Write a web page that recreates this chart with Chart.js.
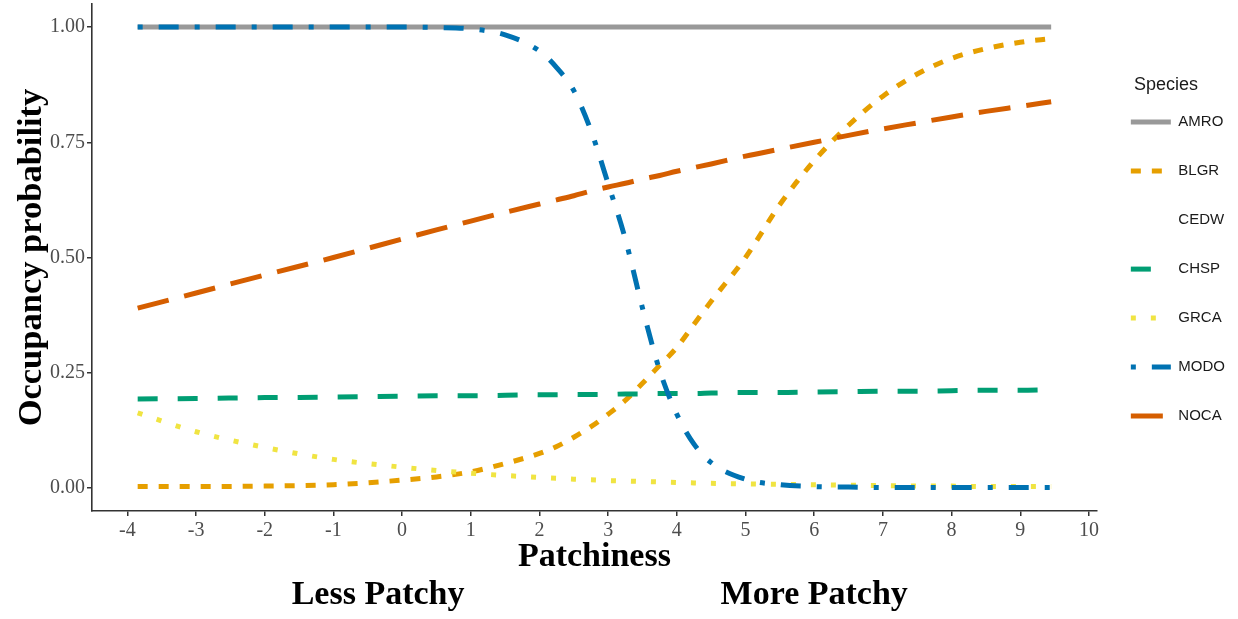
<!DOCTYPE html>
<html>
<head>
<meta charset="utf-8">
<title>Occupancy probability vs Patchiness</title>
<script src="https://cdn.jsdelivr.net/npm/chart.js@4.4.1/dist/chart.umd.min.js"></script>
<style>
  html, body { margin: 0; padding: 0; background: #fff; }
  #wrap { width: 1238px; height: 619px; }
</style>
</head>
<body>
<div id="wrap"><canvas id="chart" width="1238" height="619"></canvas></div>
<script>
/* ── Дані ── */
var patchiness = [-3.85, -3, -2, -1, 0, 0.5, 1, 1.5, 2, 2.25, 2.5, 2.75, 3, 3.25, 3.5, 3.75, 4, 4.25, 4.5, 5, 5.5, 6, 6.5, 7, 7.5, 8, 8.5, 9, 9.45];

var amro = [1, 1, 1, 1, 1, 1, 1, 1, 1, 1, 1, 1, 1, 1, 1, 1, 1, 1, 1, 1, 1, 1, 1, 1, 1, 1, 1, 1, 1];
var blgr = [0.003, 0.003, 0.004, 0.007, 0.017, 0.024, 0.035, 0.053, 0.075, 0.09, 0.11, 0.133, 0.16, 0.19, 0.227, 0.266, 0.305, 0.355, 0.405, 0.50, 0.615, 0.71, 0.787, 0.85, 0.898, 0.932, 0.953, 0.967, 0.975];
var cedw = [];
var chsp = [0.193, 0.194, 0.196, 0.197, 0.199, 0.2, 0.2, 0.201, 0.202, 0.202, 0.203, 0.203, 0.203, 0.204, 0.204, 0.205, 0.205, 0.205, 0.206, 0.207, 0.207, 0.208, 0.209, 0.21, 0.21, 0.211, 0.212, 0.212, 0.213];
var grca = [0.163, 0.122, 0.088, 0.062, 0.045, 0.038, 0.032, 0.027, 0.023, 0.021, 0.019, 0.018, 0.016, 0.015, 0.014, 0.013, 0.012, 0.011, 0.01, 0.009, 0.008, 0.007, 0.006, 0.005, 0.004, 0.004, 0.003, 0.003, 0.003];
var modo = [1, 1, 1, 1, 1, 0.999, 0.996, 0.983, 0.948, 0.912, 0.862, 0.775, 0.66, 0.54, 0.39, 0.255, 0.16, 0.095, 0.055, 0.019, 0.007, 0.003, 0.002, 0.001, 0.001, 0.001, 0.001, 0.001, 0.001];
var noca = [0.39, 0.423, 0.462, 0.50, 0.54, 0.56, 0.579, 0.598, 0.616, 0.625, 0.634, 0.644, 0.653, 0.661, 0.67, 0.678, 0.687, 0.695, 0.703, 0.72, 0.735, 0.75, 0.765, 0.779, 0.792, 0.805, 0.817, 0.828, 0.838];

var species = ['AMRO', 'BLGR', 'CEDW', 'CHSP', 'GRCA', 'MODO', 'NOCA'];
var xTicks  = [-4, -3, -2, -1, 0, 1, 2, 3, 4, 5, 6, 7, 8, 9, 10];
var yTicks  = [0, 0.25, 0.5, 0.75, 1];
var noteLabels = ['Less Patchy', 'More Patchy'];
var noteAt     = [-0.35, 6.0];

( function () {
    'use strict';

    var SERIF = '"Liberation Serif", "Times New Roman", serif';
    var SANS  = '"Liberation Sans", Arial, sans-serif';

    function toPoints( ys ) {
        return ys.map( function ( y, i ) { return { x: patchiness[ i ], y: y }; } );
    }

    /* колір, штрих, зсув штриха, порядок малювання (більший order — нижче) */
    var styles = {
        AMRO: { data: amro, color: '#999999', dash: [],              off: 0,  order: 6 },
        BLGR: { data: blgr, color: '#E69F00', dash: [10, 11],        off: 0,  order: 5 },
        CEDW: { data: cedw, color: 'rgba(0,0,0,0)', dash: [],        off: 0,  order: 4 },
        CHSP: { data: chsp, color: '#009E73', dash: [20, 20],        off: 0,  order: 3 },
        GRCA: { data: grca, color: '#F0E442', dash: [5, 15],         off: 0,  order: 2 },
        MODO: { data: modo, color: '#0072B2', dash: [20, 16, 5, 16], off: 36, order: 1 },
        NOCA: { data: noca, color: '#D55E00', dash: [32, 16],        off: 0,  order: 0 },
    };

    var datasets = species.map( function ( name ) {
        var s = styles[ name ];
        return {
            label:            name,
            data:             toPoints( s.data ),
            borderColor:      s.color,
            backgroundColor:  s.color,
            borderWidth:      5,
            borderDash:       s.dash,
            borderDashOffset: s.off,
            borderCapStyle:   'butt',
            pointRadius:      0,
            pointHoverRadius: 0,
            fill:             false,
            cubicInterpolationMode: 'monotone',
            order:            s.order,
        };
    } );

    /* Підписи під віссю X */
    var patchyNotes = {
        id: 'patchyNotes',
        afterDraw: function ( chart ) {
            var ctx = chart.ctx;
            var xs  = chart.scales.x;
            ctx.save();
            ctx.font = 'bold 34px ' + SERIF;
            ctx.fillStyle = '#000';
            ctx.textAlign = 'center';
            ctx.textBaseline = 'middle';
            noteLabels.forEach( function ( t, i ) {
                ctx.fillText( t, xs.getPixelForValue( noteAt[ i ] ), xs.bottom - 24 );
            } );
            ctx.restore();
        },
    };

    new Chart( document.getElementById( 'chart' ), {
        type: 'line',
        data: { datasets: datasets },
        plugins: [ patchyNotes ],
        options: {
            responsive: false,
            animation:  false,
            layout: { padding: { top: 2, right: 3, left: 0, bottom: 0 } },
            plugins: {
                tooltip: { enabled: false },
                legend: {
                    position: 'right',
                    align:    'start',
                    title: {
                        display: true,
                        text:    'Species',
                        color:   '#1a1a1a',
                        font:    { family: SANS, size: 18 },
                        padding: { top: 74, bottom: -17 },
                    },
                    labels: {
                        usePointStyle:   true,
                        pointStyleWidth: 40,
                        padding:         34,
                        color:           '#1a1a1a',
                        font:            { family: SANS, size: 15 },
                        generateLabels: function ( chart ) {
                            return chart.data.datasets.map( function ( ds, i ) {
                                return {
                                    text:           ds.label,
                                    strokeStyle:    ds.borderColor,
                                    fillStyle:      ds.borderColor,
                                    lineWidth:      ds.borderWidth,
                                    lineDash:       ds.borderDash,
                                    lineDashOffset: ds.borderDashOffset,
                                    lineCap:        'butt',
                                    pointStyle:     'line',
                                    fontColor:      '#1a1a1a',
                                    hidden:         false,
                                    datasetIndex:   i,
                                };
                            } );
                        },
                    },
                },
            },
            scales: {
                x: {
                    type: 'linear',
                    min:  -4.515,
                    max:  10.115,
                    afterBuildTicks: function ( scale ) {
                        scale.ticks = xTicks.map( function ( v ) { return { value: v }; } );
                    },
                    afterFit: function ( scale ) { scale.height = 108; },
                    ticks: {
                        color:    '#4d4d4d',
                        font:     { family: SERIF, size: 20 },
                        padding:  3,
                        maxRotation: 0,
                        autoSkip: false,
                        callback: function ( v ) { return String( v ); },
                    },
                    grid:   { drawOnChartArea: false, drawTicks: true, tickLength: 5, color: '#333', lineWidth: 1.5 },
                    border: { display: true, color: '#333', width: 1.6 },
                    title: {
                        display: true,
                        text:    'Patchiness',
                        color:   '#000',
                        font:    { family: SERIF, size: 34, weight: 'bold' },
                        padding: { top: 0, bottom: 41 },
                    },
                },
                y: {
                    type: 'linear',
                    min:  -0.05,
                    max:  1.05,
                    afterBuildTicks: function ( scale ) {
                        scale.ticks = yTicks.map( function ( v ) { return { value: v }; } );
                    },
                    afterFit: function ( scale ) { scale.width = 92; },
                    ticks: {
                        color:   '#4d4d4d',
                        font:    { family: SERIF, size: 20, lineHeight: 0.2 },
                        padding: 2,
                        callback: function ( v ) { return v.toFixed( 2 ); },
                    },
                    grid:   { drawOnChartArea: false, drawTicks: true, tickLength: 5, color: '#333', lineWidth: 1.5 },
                    border: { display: true, color: '#333', width: 1.6 },
                    title: {
                        display: true,
                        text:    'Occupancy probability',
                        color:   '#000',
                        font:    { family: SERIF, size: 34.5, weight: 'bold' },
                        padding: { top: 11, bottom: 0 },
                    },
                },
            },
        },
    } );
}() );
</script>
</body>
</html>
